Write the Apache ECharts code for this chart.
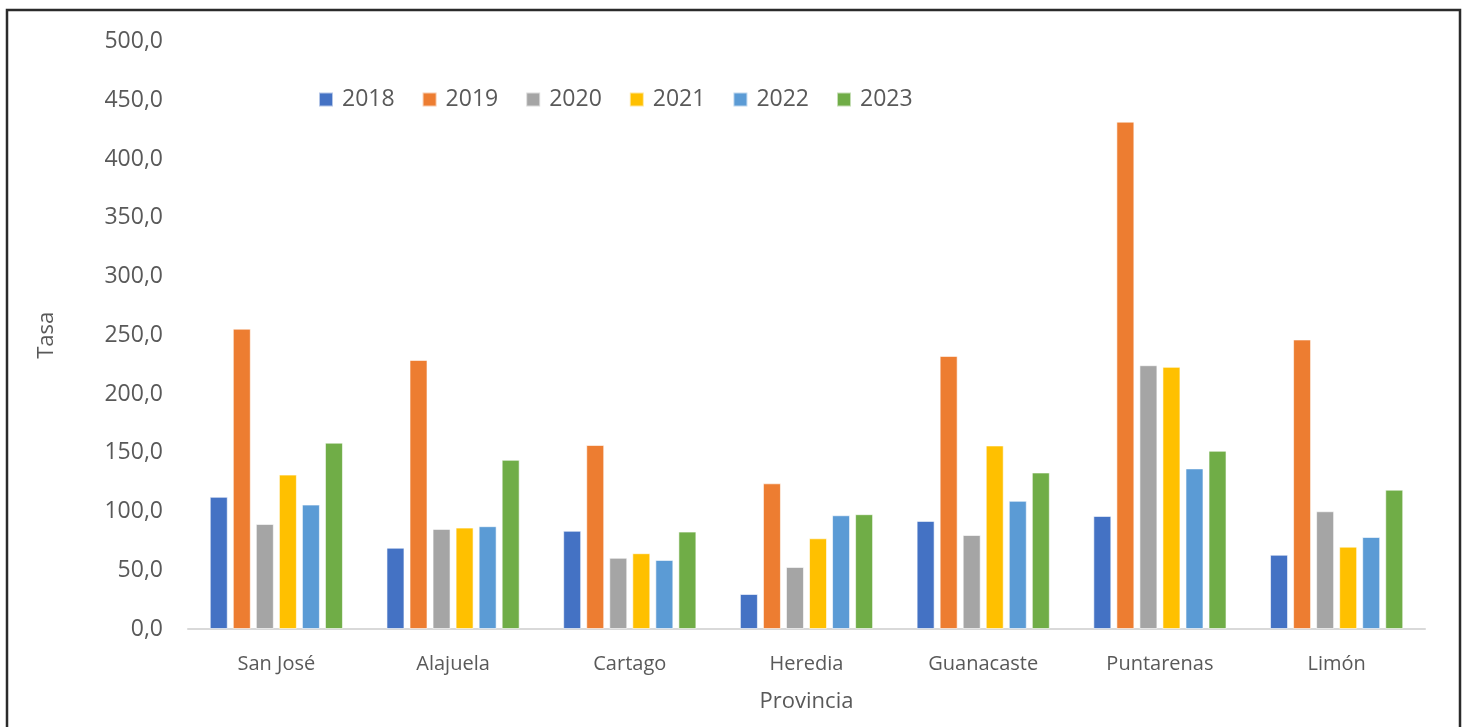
<!DOCTYPE html>
<html>
<head>
<meta charset="utf-8">
<script src="https://cdn.jsdelivr.net/npm/echarts@6/dist/echarts.min.js"></script>
<style>
  html, body { margin: 0; padding: 0; background: #fff; }
  #chart { width: 1468px; height: 727px; }
</style>
</head>
<body>
<div id="chart"></div>
<script>
const provincias = ['San José', 'Alajuela', 'Cartago', 'Heredia', 'Guanacaste', 'Puntarenas', 'Limón']
const years = ['2018', '2019', '2020', '2021', '2022', '2023']
const yearColors = ['#4472C4', '#ED7D31', '#A5A5A5', '#FFC000', '#5B9BD5', '#70AD47']

// tasa por provincia, una lista por año
const tasa2018 = [112.5, 69.2, 83.6, 29.8, 92.0, 96.2, 63.2]
const tasa2019 = [255.6, 229.0, 156.6, 124.0, 232.4, 431.8, 246.4]
const tasa2020 = [89.4, 85.2, 60.6, 52.8, 80.0, 224.5, 100.2]
const tasa2021 = [131.4, 86.3, 64.5, 77.2, 156.2, 223.1, 70.1]
const tasa2022 = [105.9, 87.5, 58.8, 96.8, 109.1, 136.7, 78.3]
const tasa2023 = [158.6, 144.0, 82.9, 97.7, 133.2, 151.7, 118.6]
const tasas = [tasa2018, tasa2019, tasa2020, tasa2021, tasa2022, tasa2023]

const font = 'Open Sans'
const grey = '#595959'

const chart = echarts.init(document.getElementById('chart'))

chart.setOption({
  animation: false,
  textStyle: { fontFamily: font },
  graphic: [{
    type: 'rect',
    shape: { x: 7, y: 10, width: 1453, height: 740 },
    style: { fill: 'none', stroke: '#2b2b2b', lineWidth: 2.5 }
  }],
  legend: {
    left: 313,
    top: 83,
    itemWidth: 14,
    itemHeight: 14,
    itemGap: 27,
    icon: 'rect',
    textStyle: { fontFamily: font, fontSize: 23, color: grey, padding: [0, 0, 0, 4] },
    data: years
  },
  grid: { left: 188, right: 43, top: 41.5, bottom: 98 },
  xAxis: {
    type: 'category',
    data: provincias,
    name: 'Provincia',
    nameLocation: 'middle',
    nameGap: 62,
    nameTextStyle: { fontFamily: font, fontSize: 22, color: grey },
    axisLine: { lineStyle: { color: '#d9d9d9', width: 2 } },
    axisTick: { show: false },
    axisLabel: { margin: 25, fontFamily: font, fontSize: 20, color: grey }
  },
  yAxis: {
    type: 'value',
    min: 0,
    max: 500,
    interval: 50,
    name: 'Tasa',
    nameLocation: 'middle',
    nameGap: 130,
    nameRotate: 90,
    nameTextStyle: { fontFamily: font, fontSize: 22, color: grey },
    axisLine: { show: false },
    axisTick: { show: false },
    splitLine: { show: false },
    axisLabel: {
      margin: 25,
      fontFamily: font,
      fontSize: 23,
      color: grey,
      formatter: v => v.toFixed(1).replace('.', ',')
    }
  },
  series: years.map((y, i) => ({
    name: y,
    type: 'bar',
    data: tasas[i],
    barWidth: 18,
    barGap: '28%',
    itemStyle: { color: yearColors[i], borderColor: 'rgba(255,255,255,0.6)', borderWidth: 1 }
  }))
})
</script>
</body>
</html>
